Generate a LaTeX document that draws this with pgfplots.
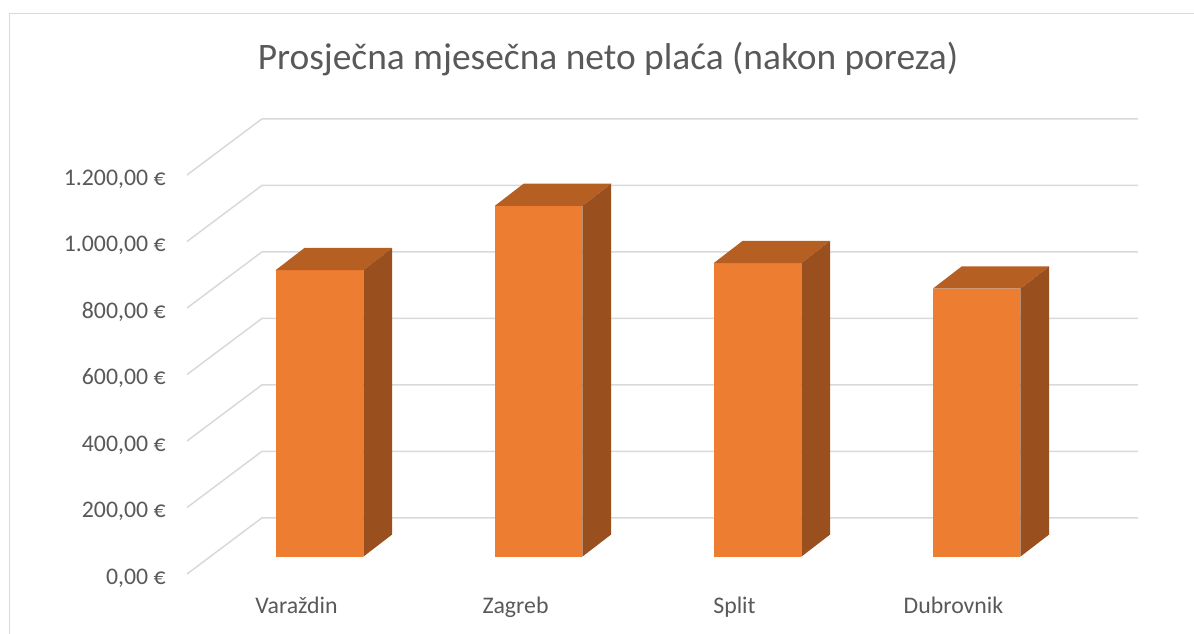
\documentclass[border=0pt]{standalone}
\usepackage{pgfplots}
\pgfplotsset{compat=1.18}
\usepackage{fontspec}
\setmainfont{Carlito}
\definecolor{txtc}{HTML}{595959}
\definecolor{gridc}{HTML}{D9D9D9}
\definecolor{barfront}{HTML}{ED7D31}
\definecolor{bartop}{HTML}{B65F23}
\definecolor{barside}{HTML}{9A4F1E}
\begin{document}
\begin{tikzpicture}
\useasboundingbox (0pt,0pt) rectangle (597pt,316.5pt);
\begin{scope}
\clip (0pt,0pt) rectangle (597pt,316.5pt);
\draw[gridc, line width=0.75pt] (4.65pt,309.85pt) rectangle (620pt,-20pt);
\end{scope}
\node[anchor=base, text=txtc, inner sep=0pt, font=\fontsize{18.7}{22}\selectfont] at (304pt,281.5pt) {Prosječna mjesečna neto plaća (nakon poreza)};
\begin{axis}[
  at={(93.5pt,29.5pt)}, anchor=origin,
  x=109.5pt, y=0.16625pt,
  xmin=0, xmax=4.35, ymin=0, ymax=1380,
  enlargelimits=false, clip=false,
  axis x line*=bottom, axis y line*=left,
  axis line style={draw=none},
  major tick length=0pt, tick style={draw=none},
  xtick={0.5,1.5,2.5,3.5},
  xticklabels={Varaždin,Zagreb,Split,Dubrovnik},
  ytick={0,200,400,600,800,1000,1200},
  yticklabels={{0,00 €},{200,00 €},{400,00 €},{600,00 €},{800,00 €},{1.000,00 €},{1.200,00 €}},
  xticklabel style={font=\fontsize{11.9}{14}\selectfont, text=txtc, anchor=base, inner sep=0pt, yshift=-19.5pt},
  yticklabel style={font=\fontsize{11.9}{14}\selectfont, text=txtc, anchor=base east, inner sep=0pt, xshift=-10.5pt, yshift=-5pt},
]
% gridlines: side wall diagonal + back wall horizontal
\addplot[gridc, line width=0.75pt] coordinates {(0,0) (0.3425,169) (4.3425,169)};
\addplot[gridc, line width=0.75pt] coordinates {(0,200) (0.3425,369) (4.3425,369)};
\addplot[gridc, line width=0.75pt] coordinates {(0,400) (0.3425,569) (4.3425,569)};
\addplot[gridc, line width=0.75pt] coordinates {(0,600) (0.3425,769) (4.3425,769)};
\addplot[gridc, line width=0.75pt] coordinates {(0,800) (0.3425,969) (4.3425,969)};
\addplot[gridc, line width=0.75pt] coordinates {(0,1000) (0.3425,1169) (4.3425,1169)};
\addplot[gridc, line width=0.75pt] coordinates {(0,1200) (0.3425,1369) (4.3425,1369)};
% values: Varazdin 862, Zagreb 1055, Split 883, Dubrovnik 806 (bar base at 52, depth offset 0.132 / 67)
% Varazdin 862
\addplot[draw=none, fill=barfront] coordinates {(0.405,52) (0.805,52) (0.805,914) (0.405,914)};
\addplot[draw=none, fill=bartop] coordinates {(0.405,914) (0.805,914) (0.937,981) (0.537,981)};
\addplot[draw=none, fill=barside] coordinates {(0.805,52) (0.937,119) (0.937,981) (0.805,914)};
% Zagreb 1055
\addplot[draw=none, fill=barfront] coordinates {(1.405,52) (1.805,52) (1.805,1107) (1.405,1107)};
\addplot[draw=none, fill=bartop] coordinates {(1.405,1107) (1.805,1107) (1.937,1174) (1.537,1174)};
\addplot[draw=none, fill=barside] coordinates {(1.805,52) (1.937,119) (1.937,1174) (1.805,1107)};
% Split 883
\addplot[draw=none, fill=barfront] coordinates {(2.405,52) (2.805,52) (2.805,935) (2.405,935)};
\addplot[draw=none, fill=bartop] coordinates {(2.405,935) (2.805,935) (2.937,1002) (2.537,1002)};
\addplot[draw=none, fill=barside] coordinates {(2.805,52) (2.937,119) (2.937,1002) (2.805,935)};
% Dubrovnik 806
\addplot[draw=none, fill=barfront] coordinates {(3.405,52) (3.805,52) (3.805,858) (3.405,858)};
\addplot[draw=none, fill=bartop] coordinates {(3.405,858) (3.805,858) (3.937,925) (3.537,925)};
\addplot[draw=none, fill=barside] coordinates {(3.805,52) (3.937,119) (3.937,925) (3.805,858)};
\end{axis}
\end{tikzpicture}
\end{document}
